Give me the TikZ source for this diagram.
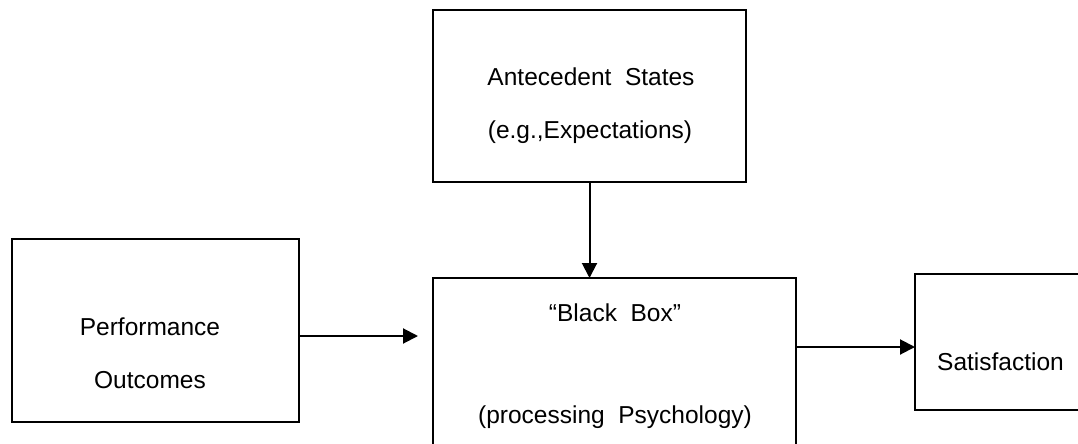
\documentclass[tikz,border=0pt]{standalone}
\usepackage{fontspec}
\setmainfont{Liberation Sans}
\usetikzlibrary{arrows.meta,positioning,calc}

\begin{document}
\begin{tikzpicture}[x=1pt,y=-1pt,
    box/.style={draw,line width=2pt,rectangle,inner sep=0pt,outer sep=0pt},
    lbl/.style={font=\fontsize{24.5}{30}\selectfont,inner sep=0pt},
    arr/.style={line width=2pt,-{Triangle[length=15pt,width=15pt]}}]
  \useasboundingbox (0,0) rectangle (1078,444);
  \clip (0,0) rectangle (1078,444);
  % boxes
  \node[box,minimum width=313pt,minimum height=172pt] (antec) at (589.5,96) {};
  \node[box,minimum width=287pt,minimum height=183pt] (perf) at (155.5,330.5) {};
  \node[box,minimum width=363pt,minimum height=200pt] (bbox) at (614.5,378) {};
  \node[box,minimum width=190pt,minimum height=136pt] (sat) at (1010,342) {};
  % labels
  \node[lbl] (antec1) at (591,77) {Antecedent\ \ States};
  \node[lbl] (antec2) at (590,132) {(e.g.,Expectations)};
  \node[lbl] (perf1) at (150,327) {Performance};
  \node[lbl] (perf2) at (150,380) {Outcomes};
  \node[lbl] (bbox1) at (615,313) {``Black\ \ Box''};
  \node[lbl] (bbox2) at (615,417) {(processing\ \ Psychology)};
  \node[lbl,anchor=west] (sat1) at (937,362) {Satisfaction};
  % connectors
  \coordinate (pin) at (418,336);
  \draw[arr] (antec.south) -- (antec.south |- bbox.north);
  \draw[arr] (perf.east |- pin) -- (pin);
  \draw[arr] (bbox.east |- 0,347) -- (sat.west |- 0,347);
\end{tikzpicture}
\end{document}
